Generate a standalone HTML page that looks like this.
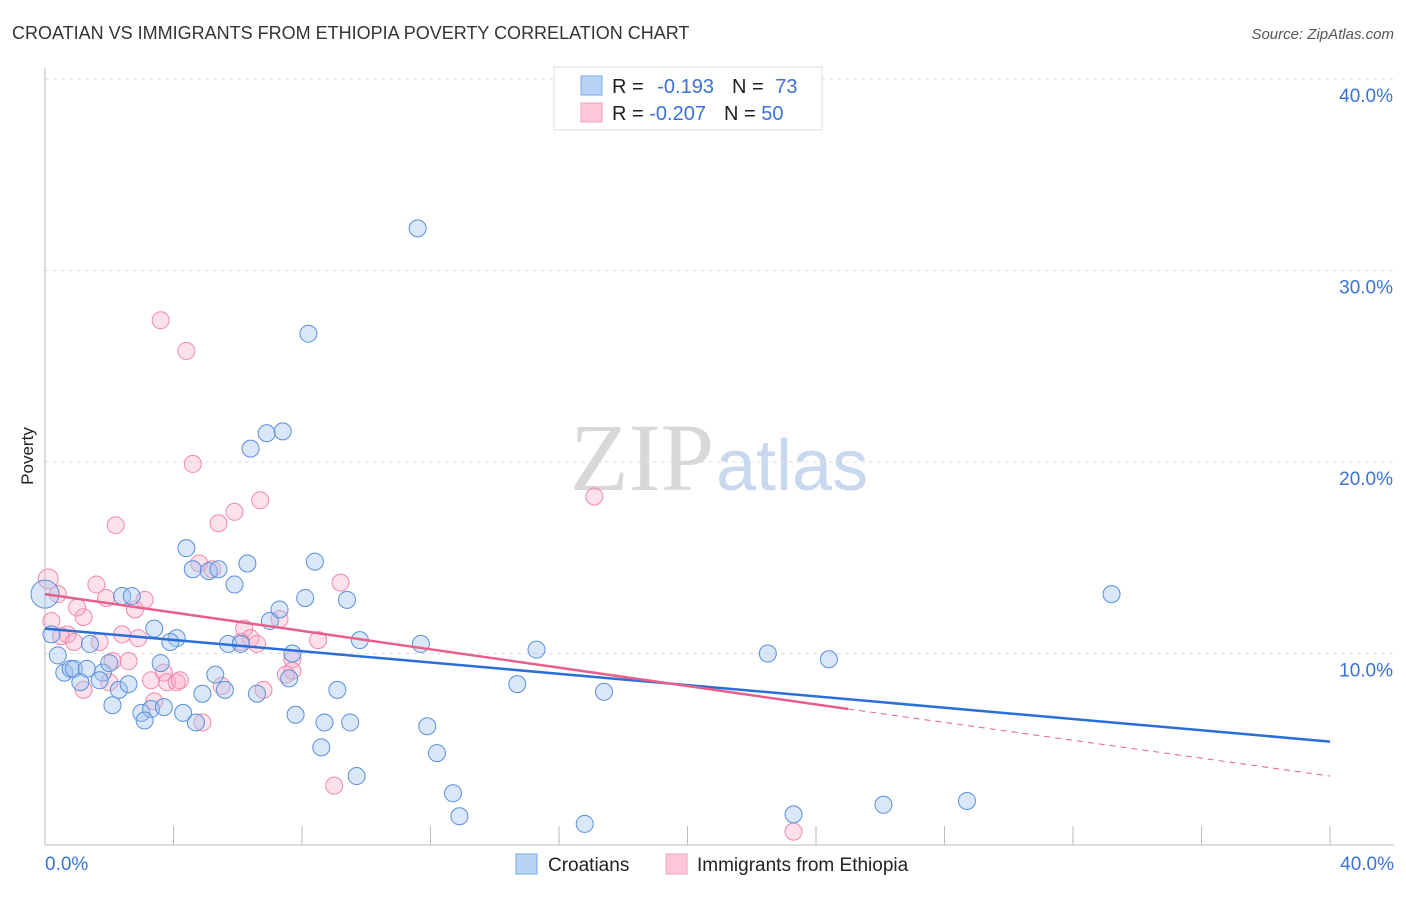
<!DOCTYPE html>
<html><head><meta charset="utf-8"><style>
body{margin:0;background:#fff;font-family:"Liberation Sans",sans-serif;}
</style></head><body>
<svg id="chart" width="1406" height="892" xmlns="http://www.w3.org/2000/svg">
<text x="12" y="39" font-size="18" fill="#333">CROATIAN VS IMMIGRANTS FROM ETHIOPIA POVERTY CORRELATION CHART</text>
<text x="1394" y="39" font-size="15" fill="#555" font-style="italic" text-anchor="end">Source: ZipAtlas.com</text>
<text x="714" y="490" font-size="96" fill="#d8d8d8" font-family="Liberation Serif,serif" text-anchor="end">ZIP</text>
<text x="716" y="490" font-size="72" fill="#c8d8ef">atlas</text>
<g id="grid"></g>
<g id="pts"></g>
<g id="lines"></g>
<text transform="translate(33,456) rotate(-90)" font-size="17" fill="#222" text-anchor="middle">Poverty</text>
<text x="45" y="870" font-size="19" fill="#3a72d8">0.0%</text>
<text x="1394" y="870" font-size="19" fill="#3a72d8" text-anchor="end">40.0%</text>
<g>
<rect x="554" y="67" width="268" height="63" fill="#fff" stroke="#ddd"/>
<rect x="581" y="76" width="21" height="19" fill="#b8d3f5" stroke="#7aa8e8"/>
<rect x="581" y="103" width="21" height="19" fill="#fcc8d8" stroke="#f0a0b8"/>
<text x="612" y="93" font-size="20" fill="#222">R = <tspan fill="#3a72d8" dx="8">-0.193</tspan><tspan dx="18" fill="#222">N = </tspan><tspan fill="#3a72d8" dx="6">73</tspan></text>
<text x="612" y="120" font-size="20" fill="#222">R = <tspan fill="#3a72d8">-0.207</tspan><tspan dx="18" fill="#222">N = </tspan><tspan fill="#3a72d8">50</tspan></text>
</g>
<g>
<rect x="516" y="854" width="21" height="20" fill="#b8d3f5" stroke="#7aa8e8"/>
<text x="548" y="871" font-size="19" fill="#222">Croatians</text>
<rect x="666" y="854" width="21" height="20" fill="#fcc8d8" stroke="#f0a0b8"/>
<text x="697" y="871" font-size="19" fill="#222">Immigrants from Ethiopia</text>
</g>
</svg>
<script>
const yTicks=[10,20,30,40];
const xTicks=[0,4,8,12,16,20,24,28,32,36,40];
const croX=[11.6,8.2,6.9,7.4,6.4,4.4,4.6,5.1,5.4,6.3,8.4,5.9,2.4,2.7,8.1,9.4,7.3,7.0,3.4,4.1,3.9,1.4,5.7,6.1,9.8,11.7,15.3,22.5,24.4,33.2,0.2,0.4,0.6,0.8,0.9,1.3,1.8,1.7,1.1,2.0,3.6,5.3,7.7,7.6,2.3,2.6,4.9,5.6,6.6,9.1,14.7,17.4,2.1,3.0,3.3,3.7,4.3,3.1,4.7,7.8,8.7,9.5,11.9,8.6,12.2,9.7,12.7,12.9,16.8,23.3,26.1,28.7,0];
const croY=[32.2,26.7,21.5,21.6,20.7,15.5,14.4,14.3,14.4,14.7,14.8,13.6,13.0,13.0,12.9,12.8,12.3,11.7,11.3,10.8,10.6,10.5,10.5,10.5,10.7,10.5,10.2,10.0,9.7,13.1,11.0,9.9,9.0,9.2,9.2,9.2,9.0,8.6,8.5,9.5,9.5,8.9,10.0,8.7,8.1,8.4,7.9,8.1,7.9,8.1,8.4,8.0,7.3,6.9,7.1,7.2,6.9,6.5,6.4,6.8,6.4,6.4,6.2,5.1,4.8,3.6,2.7,1.5,1.1,1.6,2.1,2.3,13.1];
const ethX=[3.6,4.4,4.6,17.1,6.7,5.9,5.4,2.2,4.8,5.2,9.2,1.6,1.9,3.1,1.2,2.8,1.0,0.4,0.1,0.2,0.7,0.5,0.9,1.7,2.4,2.9,2.1,2.6,3.7,3.8,3.3,4.1,4.2,6.2,7.3,6.4,6.1,6.6,8.5,7.7,7.7,7.5,5.5,6.8,3.4,4.9,9.0,23.3,1.2,2.0];
const ethY=[27.4,25.8,19.9,18.2,18.0,17.4,16.8,16.7,14.7,14.4,13.7,13.6,12.9,12.8,11.9,12.3,12.4,13.1,13.9,11.7,11.0,10.9,10.6,10.6,11.0,10.8,9.6,9.6,9.0,8.5,8.6,8.5,8.6,11.3,11.8,10.8,10.6,10.5,10.7,9.7,9.1,8.9,8.3,8.1,7.5,6.4,3.1,0.7,8.1,8.5];
const X=v=>45+v*32.125, Y=v=>845-v*19.15;
const NS='http://www.w3.org/2000/svg';
function mk(t,a,p){const e=document.createElementNS(NS,t);for(const k in a)e.setAttribute(k,a[k]);p.appendChild(e);return e;}
const g=document.getElementById('grid');
yTicks.forEach(v=>{
 const l=mk('line',{x1:45,x2:1394,y1:Y(v),y2:Y(v),stroke:'#ddd','stroke-dasharray':'4,4'},g);
 
 
 const t=mk('text',{x:1393,y:Y(v)+23,'font-size':19,fill:'#3a72d8','text-anchor':'end'},g);
 t.textContent=v.toFixed(1)+'%';
 
 
});
const ax=mk('line',{x1:45,x2:45,y1:68,y2:845,stroke:'#bbb'},g);


const bx=mk('line',{x1:45,x2:1394,y1:845,y2:845,stroke:'#bbb'},g);


xTicks.forEach(v=>{
 const l=mk('line',{x1:X(v),x2:X(v),y1:826,y2:845,stroke:'#bbb'},g);
 
 
});
const p=document.getElementById('pts');
ethX.forEach((v,i)=>{
 const c=mk('circle',{cx:X(v),cy:Y(ethY[i]),r:i==18?10:8.5,fill:'rgba(248,170,195,0.35)',stroke:'#f08aaa','stroke-width':1},p);
 
 
});
croX.forEach((v,i)=>{
 const c=mk('circle',{cx:X(v),cy:Y(croY[i]),r:i==72?14:8.5,fill:'rgba(160,195,240,0.4)',stroke:'#5a8fdc','stroke-width':1},p);
 
 
});
const L=document.getElementById('lines');
const b=mk('line',{x1:X(0),y1:Y(11.3),x2:X(40),y2:Y(5.4),stroke:'#2a6fd8','stroke-width':2.5},L);


const e1=mk('line',{x1:X(0),y1:Y(13.1),x2:X(25),y2:Y(7.1),stroke:'#e8608a','stroke-width':2.5},L);


const e2=mk('line',{x1:X(25),y1:Y(7.1),x2:X(40),y2:Y(3.6),stroke:'#e8608a','stroke-width':1,'stroke-dasharray':'6,5'},L);


</script>
</body></html>
